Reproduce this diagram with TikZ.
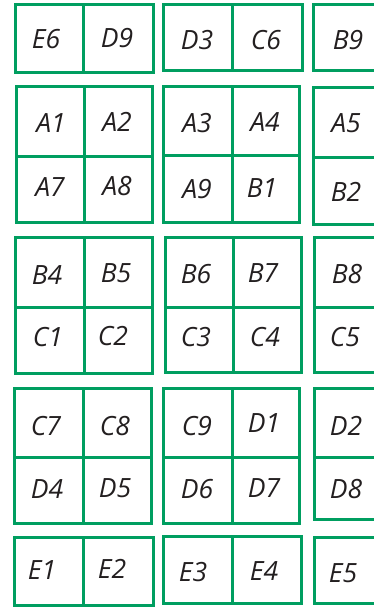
\documentclass[tikz,border=0pt]{standalone}
\usepackage{fontspec}
\setsansfont{Open Sans}
\definecolor{seatgreen}{RGB}{0,158,96}
\definecolor{seatink}{RGB}{35,31,32}
\tikzset{
  seatbox/.style={draw=seatgreen,line width=3pt},
  seatlab/.style={font=\sffamily\itshape\fontsize{26.5}{28}\selectfont,text=seatink,inner sep=0pt}
}
\begin{document}
\begin{tikzpicture}[x=1pt,y=-1pt]
  \useasboundingbox (0,0) rectangle (374,607);
  \clip (0,0) rectangle (374,607);
  % blocks (right column runs off the page)
  \foreach \l/\t/\r/\b in {15/5/153/73,163/5/302/71,313/5/390/71,
      16/87/152/222,163/87/299/222,313/88/390/224,
      15/237/152/373,165/237/301/372,314/237/390/372,
      14/388/151/523,163/388/299/523,314/388/390/519,
      14/537/153/605,163/536/301/603,314/537/390/603}
    \draw[seatbox] (\l,\t) rectangle (\r,\b);
  % vertical splits
  \foreach \x/\t/\b in {83/5/73,232/5/71,84/87/222,232/87/222,84/237/373,
      233/237/372,83/388/523,232/388/523,83/537/605,232/536/603}
    \draw[seatbox] (\x,\t) -- (\x,\b);
  % horizontal splits
  \foreach \y/\l/\r in {156/16/152,155/163/299,157/313/390,307/15/152,
      307/165/301,307/314/390,457/14/151,457/163/299,457/314/390}
    \draw[seatbox] (\l,\y) -- (\r,\y);
  % seat labels
  \foreach \n/\x/\y in {E6/46/39,D9/117/38,D3/197/40,C6/266/40,B9/348/40,
      A1/51/123,A2/117/122,A3/197/123,A4/265/122,A5/346/123,
      A7/50/187,A8/117/186,A9/197/189,B1/262/188,B2/346/192,
      B4/47/275,B5/116/273,B6/196/274,B7/263/273,B8/347/274,
      C1/48/337,C2/113/336,C3/196/337,C4/265/337,C5/345/337,
      C7/46/426,C8/115/426,C9/197/426,D1/264/423,D2/346/426,
      D4/47/489,D5/115/488,D6/197/489,D7/264/488,D8/346/489,
      E1/42/570,E2/112/569,E3/193/572,E4/264/571,E5/343/573}
    \node[seatlab] (\n) at (\x,\y) {\n};
\end{tikzpicture}
\end{document}
